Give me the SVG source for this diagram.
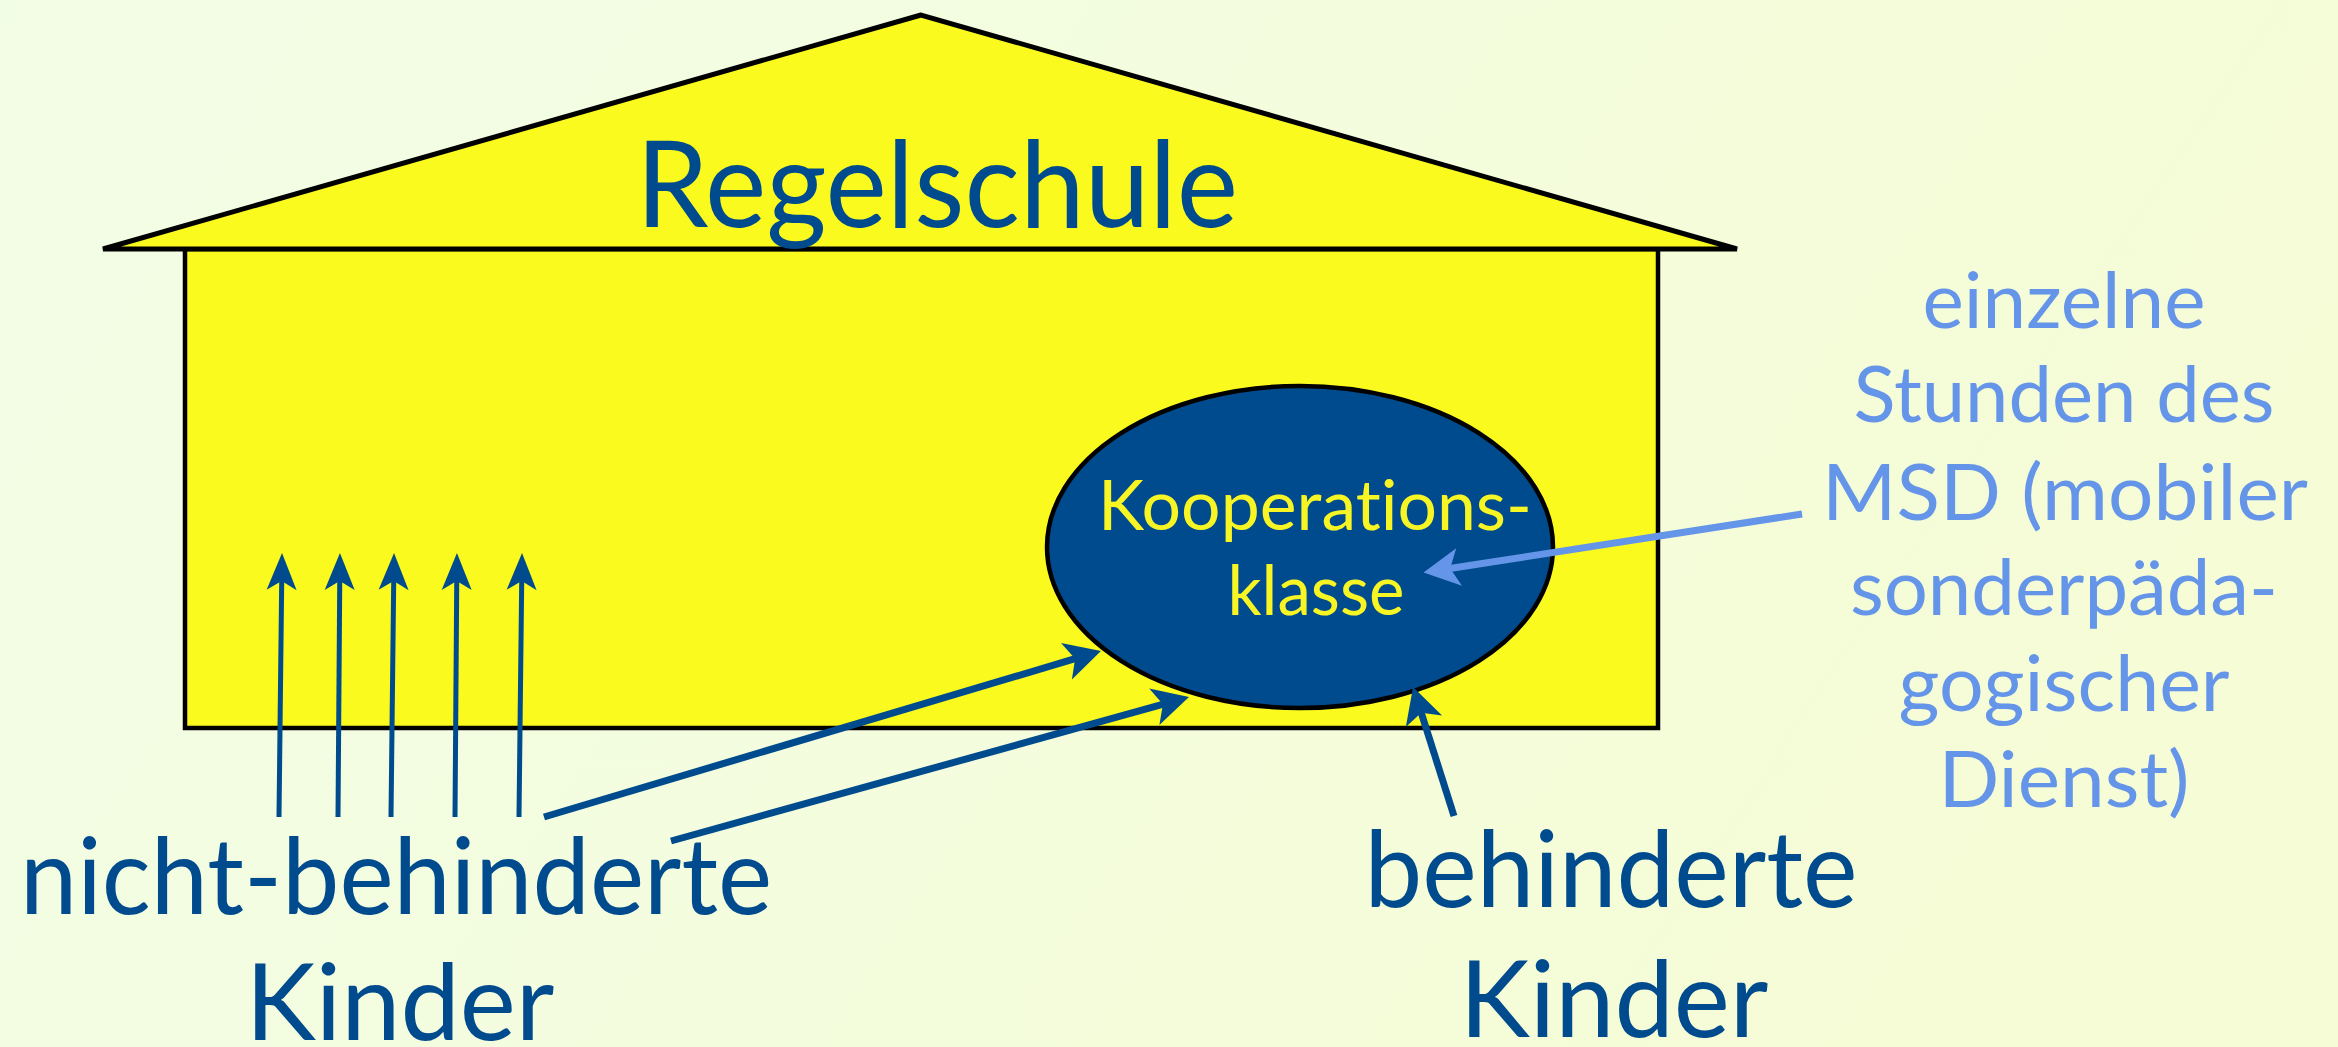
<svg xmlns="http://www.w3.org/2000/svg" width="2338" height="1047" viewBox="0 0 2338 1047">
  <defs>
    <linearGradient id="bg" x1="0" y1="0" x2="1" y2="0.3">
      <stop offset="0" stop-color="#F2FDE6"/>
      <stop offset="1" stop-color="#F5FCD6"/>
    </linearGradient>
    <marker id="headS" markerUnits="userSpaceOnUse" markerWidth="37" markerHeight="30" refX="17" refY="15" orient="auto" overflow="visible">
      <path d="M37,15 L0,0 L9,15 L0,30 Z" fill="#004B8D"/>
    </marker>
    <marker id="headL" markerUnits="userSpaceOnUse" markerWidth="36" markerHeight="38" refX="16" refY="19" orient="auto" overflow="visible">
      <path d="M36,19 L0,0 L9,19 L0,38 Z" fill="#004B8D"/>
    </marker>
    <marker id="headLight" markerUnits="userSpaceOnUse" markerWidth="36" markerHeight="38" refX="16" refY="19" orient="auto" overflow="visible">
      <path d="M36,19 L0,0 L9,19 L0,38 Z" fill="#6495E8"/>
    </marker>
  </defs>
  <style>
    .t { font-family: Lato, "Open Sans", "Liberation Sans", sans-serif; text-anchor: middle; font-variant-ligatures: none; }
    .dark { fill: #004B8D; }
    .light { fill: #6495E8; }
    .yel { fill: #F8F524; }
    .thin { stroke: #004B8D; stroke-width: 5; fill: none; marker-end: url(#headS); }
    .thick { stroke: #004B8D; stroke-width: 7; fill: none; marker-end: url(#headL); }
    .lightarrow { stroke: #6495E8; stroke-width: 7; fill: none; marker-end: url(#headLight); }
  </style>
  <rect width="2338" height="1047" fill="url(#bg)"/>

  <g id="house">
    <rect x="185" y="249" width="1473" height="479" fill="#FAFA1E" stroke="#000" stroke-width="4.5"/>
    <polygon points="921,15 103,249 1737,249" fill="#FAFA1E" stroke="#000" stroke-width="5" stroke-linejoin="miter"/>
  </g>

  <g id="title">
    <text class="t dark" x="937" y="227" font-size="121" textLength="602" lengthAdjust="spacingAndGlyphs">Regelschule</text>
  </g>

  <g id="kooperationsklasse">
    <ellipse cx="1300" cy="547" rx="253" ry="161" fill="#004B8D" stroke="#000" stroke-width="4.5"/>
    <text class="t yel" x="1315" y="530" font-size="70" textLength="434" lengthAdjust="spacingAndGlyphs">Kooperations-</text>
    <text class="t yel" x="1316" y="615" font-size="70" textLength="177" lengthAdjust="spacingAndGlyphs">klasse</text>
  </g>

  <g id="connectors">
    <line class="thin" x1="279" y1="817" x2="281.8" y2="573"/>
    <line class="thin" x1="338" y1="817" x2="339.8" y2="573"/>
    <line class="thin" x1="391" y1="817" x2="393.8" y2="573"/>
    <line class="thin" x1="455" y1="817" x2="456.8" y2="573"/>
    <line class="thin" x1="519" y1="817" x2="521.8" y2="573"/>
    <line class="thick" x1="544" y1="817" x2="1081.8" y2="656.7"/>
    <line class="thick" x1="671" y1="841" x2="1169.7" y2="702.4"/>
    <line class="thick" x1="1454" y1="816" x2="1419.1" y2="706"/>
    <line class="lightarrow" x1="1802" y1="514" x2="1443.3" y2="569.5"/>
  </g>

  <g id="label-nicht-behinderte">
    <text class="t dark" x="396" y="914" font-size="106" textLength="752" lengthAdjust="spacingAndGlyphs">nicht-behinderte</text>
    <text class="t dark" x="400" y="1040" font-size="106" textLength="309" lengthAdjust="spacingAndGlyphs">Kinder</text>
  </g>

  <g id="label-behinderte">
    <text class="t dark" x="1611" y="907" font-size="106" textLength="493" lengthAdjust="spacingAndGlyphs">behinderte</text>
    <text class="t dark" x="1614" y="1037" font-size="106" textLength="309" lengthAdjust="spacingAndGlyphs">Kinder</text>
  </g>

  <g id="label-msd">
    <text class="t light" x="2064" y="328" font-size="77" textLength="283" lengthAdjust="spacingAndGlyphs">einzelne</text>
    <text class="t light" x="2064" y="422" font-size="77" textLength="421" lengthAdjust="spacingAndGlyphs">Stunden des</text>
    <text class="t light" x="2065" y="520" font-size="77" textLength="486" lengthAdjust="spacingAndGlyphs">MSD (mobiler</text>
    <text class="t light" x="2064" y="615" font-size="77" textLength="428" lengthAdjust="spacingAndGlyphs">sonderpäda-</text>
    <text class="t light" x="2064" y="711" font-size="77" textLength="331" lengthAdjust="spacingAndGlyphs">gogischer</text>
    <text class="t light" x="2064" y="807" font-size="77" textLength="251" lengthAdjust="spacingAndGlyphs">Dienst)</text>
  </g>
</svg>
